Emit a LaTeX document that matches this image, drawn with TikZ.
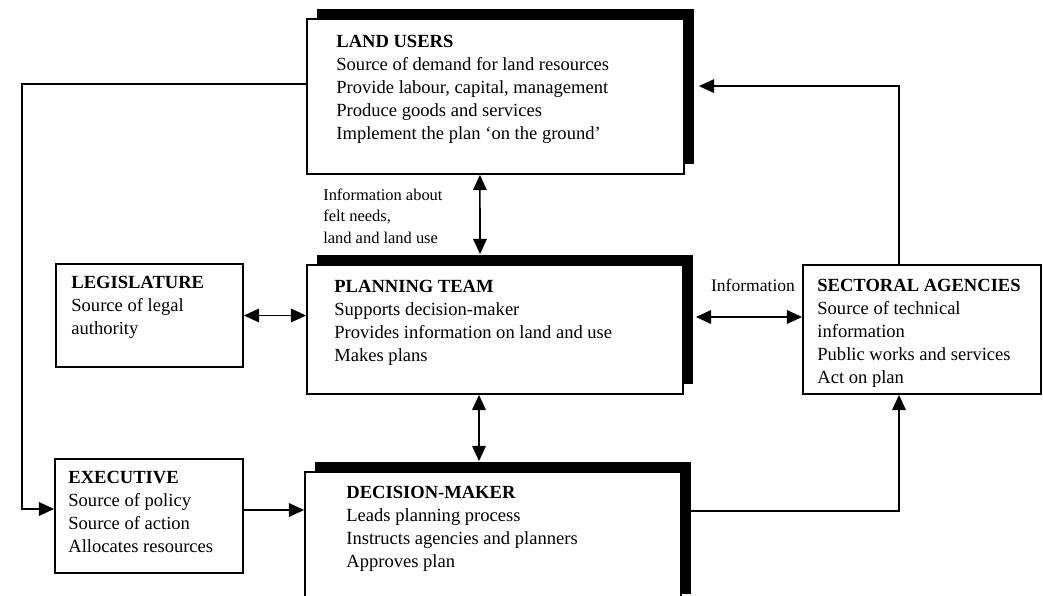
\documentclass[tikz,border=0pt]{standalone}
\usepackage{fontspec}
\setmainfont{Liberation Serif}
\usetikzlibrary{arrows.meta,shadows}

\newcommand{\panelfont}{\fontsize{13.2}{16.4}\selectfont}
\newcommand{\notefont}{\fontsize{11.7}{15}\selectfont}

\tikzset{
  panel/.style={draw, line width=0.045cm, fill=white, inner sep=0pt},
  mainpanel/.style={panel, drop shadow={shadow xshift=0.24cm, shadow yshift=0.24cm, fill=black, opacity=1}},
  paneltext/.style={anchor=north west, align=left, inner sep=0pt, font=\panelfont},
  link/.style={line width=0.04cm, -{Triangle[length=0.38cm,width=0.34cm]}},
  twoway/.style={line width=0.04cm, {Triangle[length=0.38cm,width=0.34cm]}-{Triangle[length=0.38cm,width=0.34cm]}},
}

\begin{document}
\begin{tikzpicture}
                    \useasboundingbox (0.000000,0.000000) rectangle (26.075000,14.900000);
                    \clip (0.000000,0.000000) rectangle (26.075000,14.900000);

                    % Drawing box LAND USERS
                    \node [mainpanel, minimum width=9.425cm, minimum height=3.875cm] (landusers) at (12.387500,12.487500) {};%
                    \node [paneltext] (landuserstext) at ([shift={(0.75,-0.425)}]landusers.north west)
                      {\textbf{LAND USERS}\\Source of demand for land resources\\Provide labour, capital, management\\Produce goods and services\\Implement the plan `on the ground'};%

                    % Drawing box PLANNING TEAM
                    \node [mainpanel, minimum width=9.400cm, minimum height=3.225cm] (planning) at (12.375000,6.662500) {};%
                    \node [paneltext] (planningtext) at ([shift={(0.7,-0.4)}]planning.north west)
                      {\textbf{PLANNING TEAM}\\Supports decision-maker\\Provides information on land and use\\Makes plans};%

                    % Drawing box DECISION-MAKER
                    \node [mainpanel, minimum width=9.400cm, minimum height=3.300cm] (decision) at (12.325000,1.450000) {};%
                    \node [paneltext] (decisiontext) at ([shift={(1.05,-0.375)}]decision.north west)
                      {\textbf{DECISION-MAKER}\\Leads planning process\\Instructs agencies and planners\\Approves plan};%

                    % Drawing box LEGISLATURE
                    \node [panel, minimum width=4.675cm, minimum height=2.575cm] (legislature) at (3.737500,7.012500) {};%
                    \node [paneltext] (legislaturetext) at ([shift={(0.4,-0.325)}]legislature.north west)
                      {\textbf{LEGISLATURE}\\Source of legal\\authority};%

                    % Drawing box EXECUTIVE
                    \node [panel, minimum width=4.700cm, minimum height=2.850cm] (executive) at (3.725000,2.000000) {};%
                    \node [paneltext] (executivetext) at ([shift={(0.35,-0.325)}]executive.north west)
                      {\textbf{EXECUTIVE}\\Source of policy\\Source of action\\Allocates resources};%

                    % Drawing box SECTORAL AGENCIES
                    \node [panel, minimum width=5.950cm, minimum height=3.225cm] (sectoral) at (23.050000,6.662500) {};%
                    \node [paneltext] (sectoraltext) at ([shift={(0.375,-0.375)}]sectoral.north west)
                      {\textbf{SECTORAL AGENCIES}\\Source of technical\\information\\Public works and services\\Act on plan};%

                    % Marking labels
                    \node [anchor=north west, align=left, inner sep=0pt, font=\notefont] (feltneeds) at (8.075000,10.175000)
                      {Information about\\felt needs,\\land and land use};%
                    \node [anchor=base, inner sep=0pt, font=\fontsize{12.5}{15}\selectfont] (infolabel) at (18.825000,7.600000) {Information};%

                    % Drawing link from land users round to executive
                    \coordinate (westrail) at (0.550000,7.000000);
                    \draw [link] ([yshift=0.3125cm]landusers.west) -| (westrail) |- ([yshift=0.175cm]executive.west);%

                    % Drawing link from sectoral agencies up to land users
                    \draw [link] ([xshift=-0.575cm]sectoral.north) |- ([xshift=0.35cm,yshift=0.26cm]landusers.east);%

                    % Drawing two-way links of the planning team
                    \draw [twoway] ([xshift=-0.39cm]landusers.south) -- ([xshift=-0.375cm,yshift=0.25cm]planning.north);%
                    \draw [twoway] (legislature.east) -- (legislature.east -| planning.west);%
                    \draw [twoway] ([xshift=0.3cm,yshift=0.3125cm]planning.east) -- ([yshift=0.3125cm]sectoral.west);%
                    \draw [twoway] ([xshift=-0.4cm]planning.south) -- ([xshift=-0.35cm,yshift=0.25cm]decision.north);%

                    % Drawing links of the decision-maker
                    \draw [link] ([yshift=0.15cm]executive.east) -- ([yshift=0.7cm]decision.west);%
                    \draw [link] ([yshift=0.675cm]decision.east) -| ([xshift=-0.575cm]sectoral.south);%
\end{tikzpicture}
\end{document}
